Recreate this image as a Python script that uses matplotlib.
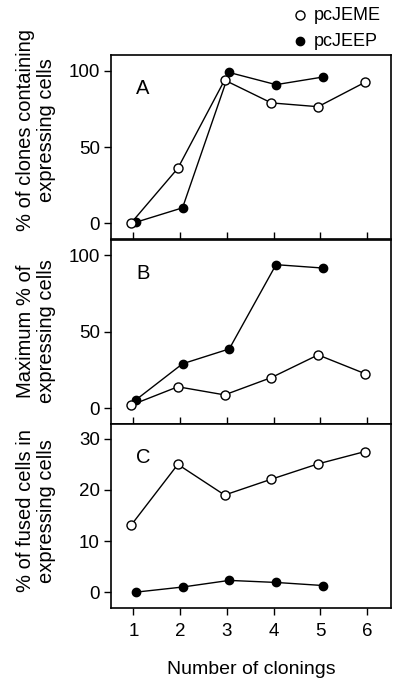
import matplotlib
matplotlib.use('Agg')
import matplotlib.pyplot as plt
import numpy as np

plt.rcParams['font.family'] = ['Liberation Sans', 'DejaVu Sans']

clonings = [1, 2, 3, 4, 5, 6]
clonings_eep = [1, 2, 3, 4, 5]

# panel A: % of clones containing expressing cells
a_jeme = [0, 36, 94, 79, 76.5, 92.5]
a_jeep = [0.5, 10, 99, 91, 96]
# panel B: maximum % of expressing cells
b_jeme = [2, 14, 8.7, 20, 34.8, 22.6]
b_jeep = [5.4, 29, 38.7, 93.7, 91.5]
# panel C: % of fused cells in expressing cells
c_jeme = [13.1, 25, 19, 22.1, 25.1, 27.5]
c_jeep = [0, 1.0, 2.3, 1.9, 1.3]

panels = [
    ('A', a_jeme, a_jeep, (-10.5, 110.5), [0, 50, 100], '% of clones containing\nexpressing cells', 130),
    ('B', b_jeme, b_jeep, (-10.3, 109.8), [0, 50, 100], 'Maximum % of\nexpressing cells', 331),
    ('C', c_jeme, c_jeep, (-3.1, 32.9), [0, 10, 20, 30], '% of fused cells in\nexpressing cells', 511),
]

W, H = 400, 682
fig = plt.figure(figsize=(W / 100, H / 100), dpi=100)

left, right = 111, 391
tops = [55, 240, 424]
ph = 184
off = 0.05

for i, (lab, jeme, jeep, ylim, yt, ylab, ycen) in enumerate(panels):
    top = tops[i]
    ax = fig.add_axes([left / W, (H - top - ph) / H, (right - left) / W, ph / H])
    x1 = np.array(clonings) - off
    x2 = np.array(clonings_eep) + off
    ax.plot(x2, jeep, '-o', color='black', mfc='black', mec='black', ms=6, lw=1, zorder=3)
    ax.plot(x1, jeme, '-o', color='black', mfc='white', mec='black', ms=6.5, mew=1, lw=1, zorder=4)
    ax.set_xlim(0.52, 6.51)
    ax.set_ylim(*ylim)
    ax.set_yticks(yt)
    ax.set_xticks(clonings)
    ax.tick_params(axis='y', direction='out', length=5, width=1, labelsize=13.5, pad=3)
    last = (i == len(panels) - 1)
    ax.tick_params(axis='x', direction='out' if last else 'in', length=5, width=1,
                   labelsize=13.5, labelbottom=last, pad=6)
    for s in ax.spines.values():
        s.set_linewidth(1.2)
    ax.text(0.09, 0.82, lab, transform=ax.transAxes, fontsize=14.5, ha='left', va='center')
    fig.text(36 / W, 1 - ycen / H, ylab, rotation=90, ha='center', va='center',
             fontsize=14.5, multialignment='center', linespacing=1.15)
    if last:
        ax.set_xlabel('Number of clonings', fontsize=14, labelpad=15)

# legend
fig.lines.append(plt.Line2D([300 / W], [1 - 15 / H], marker='o', ms=6.5, mfc='white',
                            mec='black', mew=1, transform=fig.transFigure, figure=fig))
fig.lines.append(plt.Line2D([300 / W], [1 - 41 / H], marker='o', ms=6, mfc='black',
                            mec='black', transform=fig.transFigure, figure=fig))
fig.text(314 / W, 1 - 15 / H, 'pcJEME', fontsize=13, va='center')
fig.text(314 / W, 1 - 41 / H, 'pcJEEP', fontsize=13, va='center')

fig.savefig('out.png', dpi=100)
